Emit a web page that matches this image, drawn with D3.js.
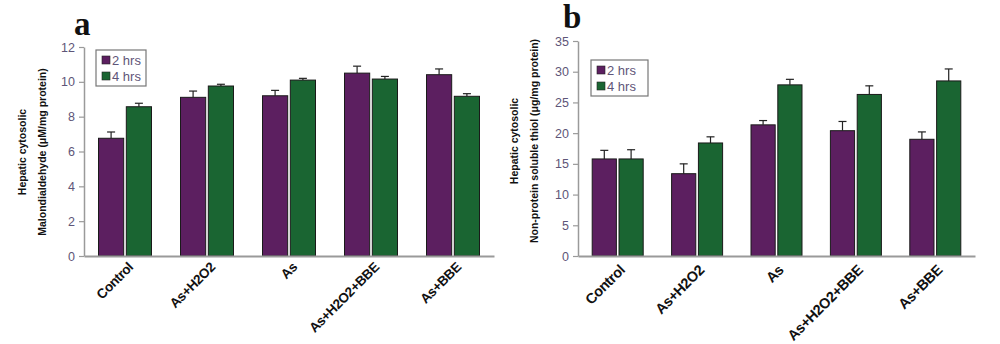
<!DOCTYPE html>
<html>
<head>
<meta charset="utf-8">
<script src="https://cdn.jsdelivr.net/npm/d3@7"></script>
<style>
  body { margin: 0; background: #fff; }
  svg { display: block; font-family: "Liberation Sans", Arial, sans-serif; }
</style>
</head>
<body>
<svg id="chart" width="1000" height="344"></svg>
<script>
// data
const groups = ['Control', 'As+H2O2', 'As', 'As+H2O2+BBE', 'As+BBE']
const series = ['2 hrs', '4 hrs']

const mdaTwo = [6.76, 9.11, 9.2, 10.5, 10.41]
const mdaTwoErr = [0.36, 0.36, 0.31, 0.4, 0.33]
const mdaFour = [8.57, 9.76, 10.1, 10.16, 9.17]
const mdaFourErr = [0.2, 0.1, 0.1, 0.15, 0.15]
const mdaTicks = [0, 2, 4, 6, 8, 10, 12]

const thiolTwo = [15.8, 13.4, 21.35, 20.4, 19.0]
const thiolTwoErr = [1.4, 1.6, 0.7, 1.5, 1.2]
const thiolFour = [15.8, 18.4, 27.86, 26.3, 28.5]
const thiolFourErr = [1.5, 1.0, 0.9, 1.4, 1.95]
const thiolTicks = [0, 5, 10, 15, 20, 25, 30, 35]

const colors = ['#5c1f60', '#1a6532']
const tickColor = '#5e5578'

const svg = d3.select('#chart')

function panel(opt) {
  const g = svg.append('g')

  const x = d3.scaleBand()
    .domain(groups)
    .range([opt.left, opt.right])

  const y = d3.scaleLinear()
    .domain([0, opt.max])
    .range([opt.bottom, opt.top])

  const inner = d3.scaleBand()
    .domain(series)
    .range([-opt.barW - opt.gap / 2, opt.barW + opt.gap / 2])
    .paddingInner(opt.gap / (2 * opt.barW + opt.gap))

  // y axis
  const yAxis = g.append('g')
    .attr('transform', `translate(${opt.left},0)`)
    .call(d3.axisLeft(y).tickValues(opt.ticks).tickSize(5).tickSizeOuter(0))
  yAxis.select('.domain').attr('stroke', '#9a9a9a').attr('stroke-width', 1.5)
  yAxis.selectAll('.tick line').attr('stroke', '#9a9a9a').attr('stroke-width', 1.2)
  yAxis.selectAll('.tick text')
    .attr('fill', tickColor)
    .attr('font-size', 12.5)
    .attr('x', -9)

  // bars + error bars
  const data = []
  groups.forEach((grp, i) => {
    data.push({ grp, s: series[0], v: opt.two[i], e: opt.twoErr[i], c: colors[0] })
    data.push({ grp, s: series[1], v: opt.four[i], e: opt.fourErr[i], c: colors[1] })
  })

  const cx = d => x(d.grp) + x.bandwidth() / 2 + inner(d.s)

  g.append('g')
    .selectAll('line')
    .data(data)
    .join('line')
    .attr('x1', d => cx(d) + inner.bandwidth() / 2)
    .attr('x2', d => cx(d) + inner.bandwidth() / 2)
    .attr('y1', d => y(d.v))
    .attr('y2', d => y(d.v + d.e))
    .attr('stroke', '#222')
    .attr('stroke-width', 1.2)

  g.append('g')
    .selectAll('line')
    .data(data)
    .join('line')
    .attr('x1', d => cx(d) + inner.bandwidth() / 2 - 4)
    .attr('x2', d => cx(d) + inner.bandwidth() / 2 + 4)
    .attr('y1', d => y(d.v + d.e))
    .attr('y2', d => y(d.v + d.e))
    .attr('stroke', '#222')
    .attr('stroke-width', 1.2)

  g.append('g')
    .selectAll('rect')
    .data(data)
    .join('rect')
    .attr('x', d => cx(d))
    .attr('y', d => y(d.v))
    .attr('width', inner.bandwidth())
    .attr('height', d => y(0) - y(d.v))
    .attr('fill', d => d.c)
    .attr('stroke', '#1a1a1a')
    .attr('stroke-width', 1)

  // x axis
  const xAxis = g.append('g')
    .attr('transform', `translate(0,${opt.bottom})`)
    .call(d3.axisBottom(x).tickSize(0).tickSizeOuter(0))
  xAxis.select('.domain').attr('stroke', '#9a9a9a').attr('stroke-width', 2)
  xAxis.selectAll('.tick text')
    .attr('fill', '#111')
    .attr('font-size', opt.labelSize)
    .attr('font-weight', 'bold')
    .attr('letter-spacing', -0.4)
    .attr('text-anchor', 'end')
    .attr('dy', 0)
    .attr('y', 0)
    .attr('transform', `translate(${opt.labelDx},${opt.labelDy}) rotate(-45)`)

  // y axis title
  const tt = g.append('text')
    .attr('transform', `translate(${opt.titleX},${opt.titleY}) rotate(-90)`)
    .attr('text-anchor', 'middle')
    .attr('font-size', 10.5)
    .attr('font-weight', 'bold')
    .attr('fill', '#111')
  tt.append('tspan').attr('x', 0).attr('dy', 0).text('Hepatic cytosolic')
  tt.append('tspan').attr('x', 0).attr('dy', 20).text(opt.title)

  // panel letter
  g.append('text')
    .attr('x', opt.letterX)
    .attr('y', opt.letterY)
    .attr('font-family', '"Liberation Serif", "DejaVu Serif", serif')
    .attr('font-weight', 'bold')
    .attr('font-size', 33)
    .attr('fill', '#111')
    .text(opt.letter)

  // legend
  const lg = g.append('g').attr('transform', `translate(${opt.legX},${opt.legY})`)
  lg.append('rect')
    .attr('width', opt.legW).attr('height', 36)
    .attr('fill', '#fff').attr('stroke', '#777').attr('stroke-width', 1.2)
  series.forEach((s, i) => {
    lg.append('rect')
      .attr('x', 6).attr('y', 6 + i * 16)
      .attr('width', 8).attr('height', 8)
      .attr('fill', colors[i]).attr('stroke', '#222').attr('stroke-width', 0.6)
    lg.append('text')
      .attr('x', 16).attr('y', 14.5 + i * 16)
      .attr('font-size', 13)
      .attr('fill', tickColor)
      .text(s)
  })
}

panel({
  left: 84, right: 494, top: 47, bottom: 256, max: 12, ticks: mdaTicks,
  two: mdaTwo, twoErr: mdaTwoErr, four: mdaFour, fourErr: mdaFourErr,
  barW: 24, gap: 5,
  labelSize: 13.5, labelDx: 9, labelDy: 12,
  title: 'Malondialdehyde (μM/mg protein)', titleX: 26, titleY: 152,
  letter: 'a', letterX: 74, letterY: 35,
  legX: 96, legY: 50, legW: 50
})

panel({
  left: 578, right: 975, top: 41, bottom: 256, max: 35, ticks: thiolTicks,
  two: thiolTwo, twoErr: thiolTwoErr, four: thiolFour, fourErr: thiolFourErr,
  barW: 23, gap: 5,
  labelSize: 14.5, labelDx: 8, labelDy: 15,
  title: 'Non-protein soluble thiol (μg/mg protein)', titleX: 518, titleY: 141,
  letter: 'b', letterX: 563, letterY: 28,
  legX: 591, legY: 60, legW: 57
})
</script>
</body>
</html>
